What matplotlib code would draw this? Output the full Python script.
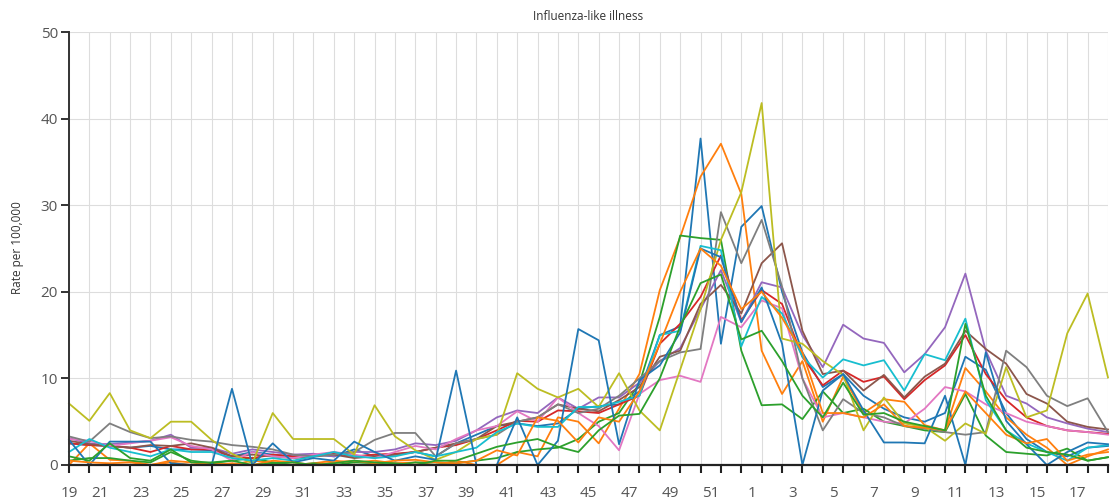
import matplotlib.pyplot as plt
import matplotlib.transforms as mtransforms

plt.rcParams['font.family'] = ['Open Sans', 'DejaVu Sans']

# week numbers, season runs from week 19 to week 18 of the next year
WEEKS = [19, 20, 21, 22, 23, 24, 25, 26, 27, 28, 29, 30, 31, 32, 33, 34, 35,
         36, 37, 38, 39, 40, 41, 42, 43, 44, 45, 46, 47, 48, 49, 50, 51, 52,
         1, 2, 3, 4, 5, 6, 7, 8, 9, 10, 11, 12, 13, 14, 15, 16, 17, 18]

# rate per 100,000, one list per region
BLUE_1 = [2.5, 2.3, 2.2, 2.0, 2.2, 1.8, 1.8, 1.7, 1.0, 1.5,
          1.2, 1.0, 1.2, 1.0, 1.8, 1.0, 1.2, 1.5, 1.0, 2.5,
          3.5, 4.5, 4.8, 4.5, 4.8, 6.5, 6.8, 7.0, 8.5, 15.0,
          16.0, 37.7, 14.0, 27.5,
          29.9, 20.0, 13.0, 9.0, 10.5, 8.0, 6.5, 5.5, 5.0, 6.0,
          12.5, 11.0, 6.0, 3.0, 1.5, 1.0, 2.0, 2.2]
ORANGE_1 = [0.0, 2.5, 0.6, 0.5, 0.0, 0.3, 0.0, 0.2, 0.0, 0.5,
            0.3, 0.0, 0.2, 0.5, 0.3, 0.5, 0.2, 0.3, 0.0, 0.5,
            0.0, 0.0, 1.5, 1.0, 5.5, 5.0, 2.5, 6.5, 10.5, 20.2,
            26.3, 33.3, 37.1, 31.3,
            13.2, 8.2, 12.0, 5.0, 10.2, 6.0, 7.6, 7.3, 4.6, 4.0,
            11.2, 8.5, 5.5, 3.5, 2.0, 0.0, 1.0, 1.8]
GREEN_1 = [0.5, 0.8, 0.8, 0.5, 0.3, 1.5, 0.5, 0.2, 0.5, 0.8,
           0.3, 0.0, 0.2, 0.0, 0.3, 0.2, 0.0, 0.3, 0.3, 0.2,
           0.5, 0.8, 1.5, 1.8, 2.0, 3.0, 5.0, 6.0, 9.4, 17.1,
           26.5, 26.2, 26.0, 13.2,
           6.9, 7.0, 5.3, 8.5, 6.0, 6.5, 5.0, 4.5, 4.0, 3.8,
           8.2, 3.4, 1.5, 1.3, 1.1, 1.9, 0.5, 0.9]
RED = [2.5, 2.3, 2.2, 2.0, 1.5, 2.2, 1.8, 1.8, 1.0, 0.8,
       1.2, 1.0, 1.0, 1.3, 1.0, 1.2, 1.3, 1.5, 2.0, 2.3,
       3.0, 4.0, 5.1, 5.0, 6.3, 6.2, 6.0, 7.0, 8.0, 14.0,
       16.3, 19.4, 24.2, 16.7,
       20.2, 18.6, 12.5, 9.2, 10.9, 9.6, 10.2, 7.6, 9.8, 11.5,
       15.0, 10.5, 7.5, 5.5, 4.5, 4.0, 3.8, 3.6]
PURPLE = [3.1, 2.5, 2.4, 2.6, 2.8, 3.5, 2.0, 2.0, 1.3, 1.8,
          1.5, 1.2, 1.3, 1.0, 1.5, 1.5, 1.8, 2.5, 2.3, 2.8,
          4.0, 5.5, 6.3, 6.0, 7.8, 6.5, 7.8, 7.8, 9.5, 12.0,
          13.5, 18.0, 22.5, 16.5,
          21.1, 20.5, 15.0, 11.3, 16.2, 14.6, 14.1, 10.7, 12.8, 15.9,
          22.1, 13.2, 8.0, 7.1, 5.5, 4.8, 4.2, 3.8]
BROWN = [2.8, 2.4, 2.2, 2.0, 2.3, 2.2, 2.5, 2.0, 1.0, 1.2,
         1.0, 0.8, 1.0, 1.2, 0.8, 1.0, 1.2, 1.5, 2.0, 2.5,
         3.0, 4.5, 5.0, 5.5, 7.0, 6.5, 6.2, 7.5, 9.0, 12.5,
         13.2, 18.6, 20.8, 17.5,
         23.3, 25.6, 15.5, 10.5, 10.9, 8.6, 10.4, 7.8, 10.2, 11.7,
         15.5, 13.4, 11.7, 8.2, 7.1, 5.0, 4.4, 4.1]
PINK = [3.0, 2.8, 2.2, 2.5, 2.8, 3.2, 2.2, 1.8, 0.5, 1.5,
        1.0, 0.8, 1.2, 1.5, 1.2, 0.8, 1.5, 2.2, 1.8, 3.0,
        4.0, 4.5, 6.2, 5.0, 7.8, 6.0, 4.5, 1.7, 8.2, 9.8,
        10.3, 9.6, 17.1, 15.9,
        19.0, 18.1, 10.0, 5.5, 6.0, 5.5, 5.0, 4.8, 6.5, 9.0,
        8.5, 7.0, 6.0, 5.0, 4.5, 4.0, 3.8, 3.5]
GREY = [3.3, 2.7, 4.8, 3.8, 3.1, 3.3, 2.9, 2.7, 2.3, 2.1,
        1.8, 1.2, 1.0, 1.2, 1.5, 2.9, 3.7, 3.7, 1.0, 2.5,
        3.0, 3.5, 5.0, 5.5, 7.0, 6.0, 6.5, 8.0, 10.0, 12.0,
        13.0, 13.4, 29.2, 23.3,
        28.3, 20.6, 10.0, 4.0, 7.6, 6.0, 5.5, 4.5, 4.2, 3.8,
        3.5, 3.8, 13.2, 11.3, 8.0, 6.8, 7.7, 3.8]
OLIVE = [7.1, 5.1, 8.3, 4.0, 3.1, 5.0, 5.0, 2.9, 1.3, 0.2,
         6.0, 3.0, 3.0, 3.0, 1.2, 6.9, 3.3, 1.7, 0.6, 1.5,
         3.0, 3.5, 10.6, 8.8, 7.8, 8.8, 6.7, 10.6, 6.3, 4.0,
         11.0, 18.0, 26.0, 31.5,
         41.8, 14.6, 14.0, 12.0, 10.4, 4.0, 7.8, 4.8, 4.4, 2.8,
         4.8, 3.6, 11.3, 5.5, 6.3, 15.2, 19.8, 10.1]
CYAN = [1.5, 3.0, 2.0, 1.5, 1.0, 1.8, 1.5, 1.5, 0.8, 0.5,
        0.8, 0.5, 1.0, 1.5, 1.0, 0.8, 1.0, 1.5, 1.0, 1.5,
        2.0, 3.8, 4.8, 4.4, 4.4, 6.7, 6.7, 7.3, 8.0, 15.0,
        15.5, 25.3, 24.8, 13.7,
        19.4, 17.5, 12.5, 10.1, 12.2, 11.5, 12.1, 8.6, 12.8, 12.1,
        16.9, 7.5, 4.0, 2.5, 1.5, 0.5, 2.0, 2.3]
BLUE_2 = [2.9, 0.0, 2.7, 2.7, 2.7, 0.2, 0.0, 0.0, 8.8, 0.0,
          2.5, 0.3, 0.8, 0.5, 2.7, 1.5, 0.5, 1.0, 0.6, 10.9,
          0.0, 0.0, 5.5, 0.0, 2.8, 15.7, 14.4, 2.4, 9.8, 11.5,
          15.3, 25.0, 24.0, 16.5,
          20.5, 14.0, 0.0, 8.6, 10.5, 6.3, 2.6, 2.6, 2.5, 8.0,
          0.0, 13.0, 5.1, 2.4, 0.0, 1.5, 2.6, 2.4]
ORANGE_2 = [0.5, 0.3, 0.2, 0.3, 0.0, 0.5, 0.3, 0.0, 0.2, 0.0,
            0.5, 0.3, 0.0, 0.3, 0.5, 0.2, 0.5, 0.6, 0.3, 0.2,
            0.5, 1.7, 1.1, 5.5, 5.1, 2.6, 5.5, 5.0, 8.5, 14.0,
            20.0, 25.0, 23.0, 18.0,
            20.0, 17.0, 13.0, 6.0, 6.0, 5.5, 7.0, 4.5, 4.3, 4.0,
            8.5, 6.0, 3.5, 2.5, 3.0, 0.5, 1.2, 1.5]
GREEN_2 = [1.0, 0.5, 2.5, 0.8, 0.5, 1.8, 0.3, 0.3, 0.5, 0.0,
           0.2, 0.3, 0.0, 0.2, 0.5, 0.3, 0.2, 0.0, 0.5, 0.5,
           1.3, 2.1, 2.6, 3.0, 2.1, 1.5, 4.0, 5.7, 5.9, 10.0,
           16.0, 21.0, 22.0, 14.5,
           15.5, 12.0, 8.0, 5.5, 9.5, 5.8, 6.0, 5.0, 4.5, 4.0,
           16.3, 8.0, 4.0, 2.0, 1.5, 1.2, 0.5, 0.9]

SERIES = [
    (BLUE_1, '#1f77b4'), (ORANGE_1, '#ff7f0e'), (GREEN_1, '#2ca02c'),
    (RED, '#d62728'), (PURPLE, '#9467bd'), (BROWN, '#8c564b'),
    (PINK, '#e377c2'), (GREY, '#7f7f7f'), (OLIVE, '#bcbd22'),
    (CYAN, '#17becf'), (BLUE_2, '#1f77b4'), (ORANGE_2, '#ff7f0e'),
    (GREEN_2, '#2ca02c'),
]
Y_TICKS = [0, 10, 20, 30, 40, 50]

W, H = 1110, 504
fig = plt.figure(figsize=(W / 100, H / 100), dpi=100)
ax = fig.add_axes([69 / W, 39 / H, 1039 / W, 433 / H])

x = list(range(len(WEEKS)))
for values, colour in SERIES:
    ax.plot(x, values, color=colour, lw=1.3, clip_on=False)

ax.set_xlim(0, len(WEEKS) - 1)
ax.set_ylim(0, 50)
ax.set_xticks(x)
ax.set_xticklabels([str(w) if i % 2 == 0 else '' for i, w in enumerate(WEEKS)])
ax.set_yticks(Y_TICKS)

ax.grid(True, color='#dddddd', lw=0.8)
ax.set_axisbelow(True)
for side in ('top', 'right'):
    ax.spines[side].set_visible(False)
ax.spines['left'].set_color('#333333')
ax.spines['bottom'].set_color('#222222')
ax.spines['left'].set_linewidth(1.4)
ax.spines['bottom'].set_linewidth(1.6)

ax.tick_params(axis='x', length=6, width=1.5, color='#222222',
               labelsize=11, labelcolor='#555555', pad=9)
ax.tick_params(axis='y', length=6, width=1.4, color='#333333',
               labelsize=11, labelcolor='#555555', pad=2)

# the week labels sit a little to the left of their tick marks
shift = mtransforms.ScaledTranslation(-10 / 100, 0, fig.dpi_scale_trans)
for i, label in enumerate(ax.get_xticklabels()):
    if i > 0:
        label.set_transform(label.get_transform() + shift)

fig.text(588 / W, 1 - 17 / H, 'Influenza-like illness', ha='center',
         va='center', fontsize=8.5, color='#333333')
fig.text(18 / W, 1 - 248 / H, 'Rate per 100,000', ha='center', va='center',
         rotation=90, fontsize=8.5, color='#333333')

fig.savefig('out.png', dpi=100)
